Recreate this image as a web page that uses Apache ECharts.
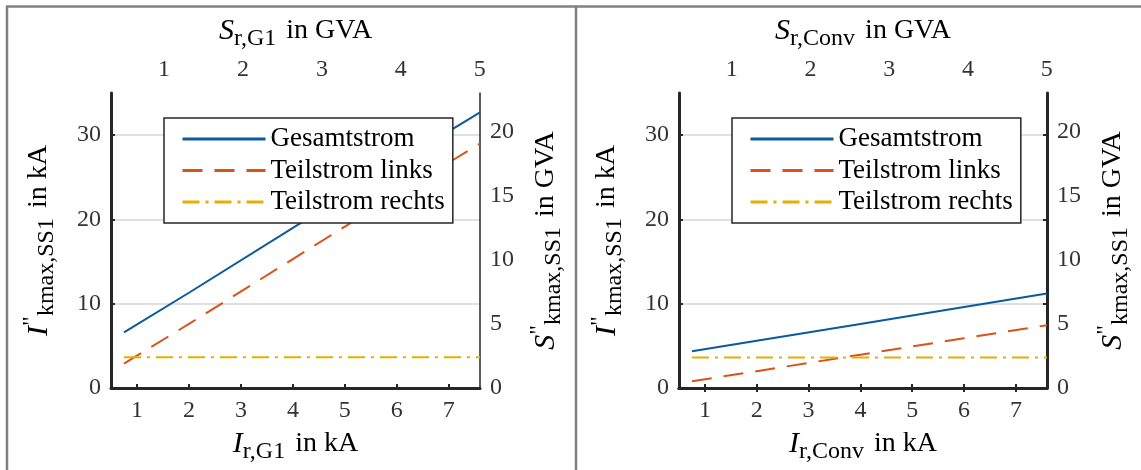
<!DOCTYPE html>
<html>
<head>
    <meta charset="utf-8">
    <title>Kurzschlussstrom SS1</title>
    <script src="https://cdn.jsdelivr.net/npm/echarts@6/dist/echarts.min.js"></script>
    <style>
        html, body {margin: 0; padding: 0; background: #fff;}
        #chart {width: 1141px; height: 470px;}
    </style>
</head>
<body>
<div id="chart"></div>
<script>
    // Bemessungsstrom in kA (untere Achse)
    var xTicks = [1, 2, 3, 4, 5, 6, 7];
    // Bemessungsleistung in GVA (obere Achse)
    var sTicks = [1, 2, 3, 4, 5];
    // Kurzschlussleistung in GVA (rechte Achse)
    var skTicks = [0, 5, 10, 15, 20];
    var seriesNames = ['Gesamtstrom', 'Teilstrom links', 'Teilstrom rechts'];

    // Links: Variation G1
    var g1Ir = [0.75, 2, 4, 6, 7.6];
    var g1Gesamt = [6.6, 11.3, 19.0, 26.7, 32.7];
    var g1Links = [2.9, 7.6, 15.3, 23.0, 29.0];
    var g1RechtsIr = [0.75, 7.6];
    var g1Rechts = [3.65, 3.65];

    // Rechts: Variation Umrichter
    var convIr = [0.75, 2, 4, 6, 7.6];
    var convGesamt = [4.35, 5.6, 7.6, 9.6, 11.2];
    var convLinks = [0.8, 2.0, 3.95, 5.9, 7.45];
    var convRechtsIr = [0.75, 7.6];
    var convRechts = [3.63, 3.63];

    // S = sqrt(3) * 380 kV * I
    var kS = Math.sqrt(3) * 0.38;
    var xMin = 0.5, xMax = 7.6, yMax = 35;

    var font = "'Liberation Serif', 'Times New Roman', serif";
    var dark = '#262626';
    var colors = ['#0b5a9c', '#d95319', '#e3b000'];

    function pairs(xs, ys) {
        return xs.map(function (x, i) { return [x, ys[i]]; });
    }

    var rich = {
        i: {fontFamily: font, fontSize: 30, fontStyle: 'italic', color: '#000'},
        p: {fontFamily: font, fontSize: 24, color: '#000', padding: [0, 0, 14, 0]},
        s: {fontFamily: font, fontSize: 24, color: '#000', padding: [16, 0, 0, 0]},
        t: {fontFamily: font, fontSize: 28, color: '#000'}
    };

    var labelStyle = {fontFamily: font, fontSize: 24, color: '#333'};

    var chart = echarts.init(document.getElementById('chart'));

    var option = {
        backgroundColor: '#fff',
        animation: false,
        color: colors,
        grid: [
            {left: 111, top: 93, width: 369, height: 295},
            {left: 679, top: 93, width: 368, height: 295}
        ],
        graphic: [
            {type: 'line', shape: {x1: 6, y1: 6.5, x2: 1141, y2: 6.5}, style: {stroke: '#808080', lineWidth: 2.5}},
            {type: 'line', shape: {x1: 7, y1: 6, x2: 7, y2: 470}, style: {stroke: '#808080', lineWidth: 2.5}},
            {type: 'line', shape: {x1: 576, y1: 6, x2: 576, y2: 470}, style: {stroke: '#808080', lineWidth: 2.5}}
        ],
        legend: [],
        xAxis: [],
        yAxis: [],
        series: []
    };

    function addPanel(idx, sub, boxed, data) {
        option.xAxis.push({
            type: 'value', gridIndex: idx, position: 'bottom',
            min: xMin, max: xMax,
            name: '{i|I}{s|r,' + sub + '}   {t|in kA}',
            nameLocation: 'middle', nameGap: 36,
            nameTextStyle: {rich: rich},
            axisLine: {lineStyle: {color: dark, width: 3}},
            axisTick: {inside: true, length: 4, customValues: xTicks, lineStyle: {color: dark, width: 2}},
            axisLabel: Object.assign({margin: 11, customValues: xTicks}, labelStyle),
            splitLine: {show: false}
        });
        option.xAxis.push({
            type: 'value', gridIndex: idx, position: 'top',
            min: xMin * kS, max: xMax * kS,
            name: '{i|S}{s|r,' + sub + '}   {t|in GVA}',
            nameLocation: 'middle', nameGap: 42,
            nameTextStyle: {rich: rich},
            axisLine: {lineStyle: {color: dark, width: boxed ? 3 : 2}},
            axisTick: {
                show: boxed, inside: true, length: 4,
                customValues: xTicks.map(function (v) { return v * kS; }),
                lineStyle: {color: dark, width: 2}
            },
            axisLabel: Object.assign({margin: 11, customValues: sTicks}, labelStyle),
            splitLine: {show: false}
        });
        option.yAxis.push({
            type: 'value', gridIndex: idx, position: 'left',
            min: 0, max: yMax, interval: 10,
            name: '{i|I}{p|"}{s|kmax,SS1}   {t|in kA}',
            nameLocation: 'middle', nameGap: 52, nameRotate: 90,
            nameTextStyle: {rich: rich},
            axisLine: {lineStyle: {color: dark, width: 3}},
            axisTick: {inside: true, length: 4, lineStyle: {color: dark, width: 2}},
            axisLabel: Object.assign({margin: 10, showMaxLabel: false}, labelStyle),
            splitLine: {show: true, showMinLine: false, showMaxLine: false, lineStyle: {color: '#e0e0e0', width: 2}}
        });
        option.yAxis.push({
            type: 'value', gridIndex: idx, position: 'right',
            min: 0, max: yMax * kS,
            name: '{i|S}{p|"}{s|kmax,SS1}   {t|in GVA}',
            nameLocation: 'middle', nameGap: 46, nameRotate: 90,
            nameTextStyle: {rich: rich},
            axisLine: {lineStyle: {color: dark, width: boxed ? 3 : 1.5}},
            axisTick: {
                show: boxed, inside: true, length: 4,
                customValues: [10, 20, 30].map(function (v) { return v * kS; }),
                lineStyle: {color: dark, width: 2}
            },
            axisLabel: Object.assign({margin: 10, customValues: skTicks}, labelStyle),
            splitLine: {show: false}
        });

        var styles = [
            {width: 2, type: 'solid'},
            {width: 2, type: [20, 12]},
            {width: 2, type: [17, 6, 3, 6]}
        ];
        data.forEach(function (d, i) {
            option.series.push({
                name: seriesNames[i], type: 'line',
                xAxisIndex: idx * 2, yAxisIndex: idx * 2,
                data: d, symbol: 'none', silent: true,
                lineStyle: Object.assign({color: colors[i]}, styles[i]),
                itemStyle: {color: colors[i]}
            });
        });

        option.legend.push({
            data: seriesNames,
            orient: 'vertical',
            left: (idx === 0 ? 111 : 679) + 53, top: 118,
            itemWidth: 83, itemHeight: 14, itemGap: 3.5,
            padding: [7, 8, 7, 17],
            borderColor: dark, borderWidth: 1.5,
            backgroundColor: '#fff',
            selectedMode: false,
            itemStyle: {opacity: 0},
            lineStyle: {width: 3},
            textStyle: {fontFamily: font, fontSize: 27, color: '#000', lineHeight: 28}
        });
    }

    addPanel(0, 'G1', false, [
        pairs(g1Ir, g1Gesamt),
        pairs(g1Ir, g1Links),
        pairs(g1RechtsIr, g1Rechts)
    ]);
    addPanel(1, 'Conv', true, [
        pairs(convIr, convGesamt),
        pairs(convIr, convLinks),
        pairs(convRechtsIr, convRechts)
    ]);

    chart.setOption(option);
</script>
</body>
</html>
